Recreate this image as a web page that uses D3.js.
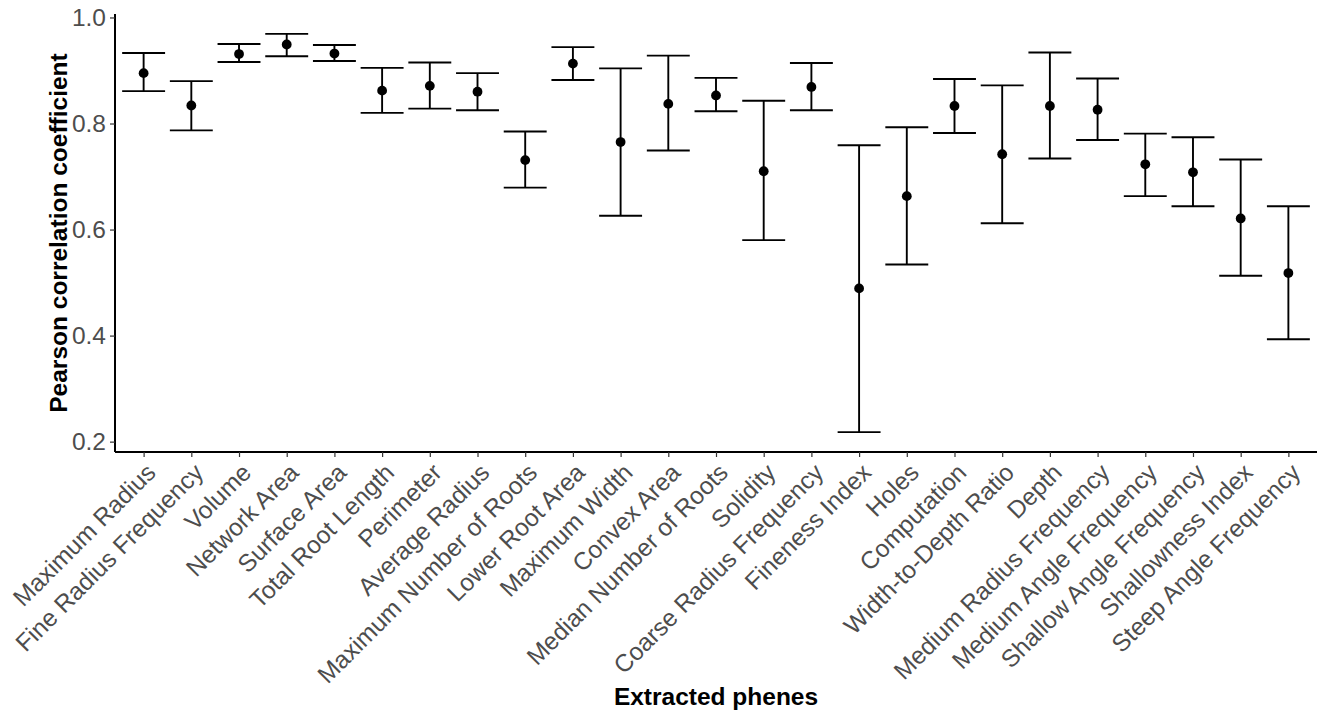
<!DOCTYPE html>
<html>
<head>
<meta charset="utf-8">
<script src="https://cdn.jsdelivr.net/npm/d3@7"></script>
<style>
  body { margin: 0; background: #fff; }
  text { font-family: "Liberation Sans", Arial, sans-serif; }
</style>
</head>
<body>
<div id="chart-area"></div>
<script>
// phenes, in plotted order
let phenes = ["Maximum Radius", "Fine Radius Frequency", "Volume", "Network Area", "Surface Area",
  "Total Root Length", "Perimeter", "Average Radius", "Maximum Number of Roots", "Lower Root Area",
  "Maximum Width", "Convex Area", "Median Number of Roots", "Solidity", "Coarse Radius Frequency",
  "Fineness Index", "Holes", "Computation", "Width-to-Depth Ratio", "Depth",
  "Medium Radius Frequency", "Medium Angle Frequency", "Shallow Angle Frequency", "Shallowness Index",
  "Steep Angle Frequency"];

// mean pearson r and its interval
let meanR  = [0.895, 0.834, 0.931, 0.949, 0.932, 0.862, 0.871, 0.860, 0.731, 0.913,
  0.765, 0.837, 0.853, 0.710, 0.869, 0.489, 0.663, 0.833, 0.742, 0.833,
  0.826, 0.723, 0.708, 0.621, 0.518];
let upperR = [0.933, 0.880, 0.950, 0.969, 0.948, 0.905, 0.915, 0.895, 0.785, 0.944,
  0.904, 0.928, 0.886, 0.843, 0.914, 0.759, 0.793, 0.884, 0.872, 0.934,
  0.885, 0.781, 0.774, 0.732, 0.644];
let lowerR = [0.861, 0.787, 0.916, 0.927, 0.918, 0.820, 0.828, 0.825, 0.679, 0.882,
  0.626, 0.749, 0.823, 0.580, 0.825, 0.218, 0.534, 0.782, 0.612, 0.734,
  0.769, 0.663, 0.644, 0.513, 0.393];

let yTicks = [0.2, 0.4, 0.6, 0.8, 1.0];

let width = 1317,
height = 715;

let margin = {left: 115, right: 0, top: 14, bottom: 263};

let svg = d3.select("#chart-area").append("svg")
    .attr("width", width)
    .attr("height", height);

let data = phenes.map((p, i) => ({name: p, mean: meanR[i], lo: lowerR[i], hi: upperR[i]}));

let x = d3.scalePoint()
    .domain(phenes)
    .range([margin.left, width - margin.right])
    .padding(0.6);

// ggplot style 5% expansion
let ext = [d3.min(lowerR), d3.max(upperR)];
let pad = (ext[1] - ext[0]) * 0.05;
let y = d3.scaleLinear()
    .domain([ext[0] - pad, ext[1] + pad])
    .range([height - margin.bottom, margin.top]);

let capW = x.step() * 0.9 / 2;

// axes
let yAxis = svg.append("g")
    .attr("transform", "translate(" + margin.left + ",0)")
    .call(d3.axisLeft(y).tickValues(yTicks).tickFormat(d3.format(".1f")).tickSize(5).tickPadding(4));

let xAxis = svg.append("g")
    .attr("transform", "translate(0," + (height - margin.bottom) + ")")
    .call(d3.axisBottom(x).tickSize(5).tickSizeOuter(0));

yAxis.select(".domain").attr("stroke", "#000").attr("stroke-width", 2)
    .attr("d", "M0," + y.range()[0] + "V" + y.range()[1]);
xAxis.select(".domain").attr("stroke", "#000").attr("stroke-width", 2)
    .attr("d", "M" + margin.left + ",0H" + width);
svg.selectAll(".tick line").attr("stroke", "#333").attr("stroke-width", 1.2);

yAxis.selectAll(".tick text")
    .attr("fill", "#4d4d4d")
    .style("font-size", "24.5px");

xAxis.selectAll(".tick text")
    .attr("fill", "#4d4d4d")
    .style("font-size", "24.5px")
    .attr("text-anchor", "end")
    .attr("dy", null)
    .attr("y", 0)
    .attr("transform", "translate(13,22) rotate(-45)");

// error bars
let bars = svg.append("g").selectAll("g")
    .data(data)
    .enter()
    .append("g")
    .attr("stroke", "#000")
    .attr("stroke-width", 1.9);

bars.append("line")
    .attr("x1", d => x(d.name)).attr("x2", d => x(d.name))
    .attr("y1", d => y(d.hi)).attr("y2", d => y(d.lo));
bars.append("line")
    .attr("x1", d => x(d.name) - capW).attr("x2", d => x(d.name) + capW)
    .attr("y1", d => y(d.hi)).attr("y2", d => y(d.hi));
bars.append("line")
    .attr("x1", d => x(d.name) - capW).attr("x2", d => x(d.name) + capW)
    .attr("y1", d => y(d.lo)).attr("y2", d => y(d.lo));

svg.append("g").selectAll("circle")
    .data(data)
    .enter()
    .append("circle")
    .attr("cx", d => x(d.name))
    .attr("cy", d => y(d.mean))
    .attr("r", 4.9)
    .attr("fill", "#000");

// titles
svg.append("text")
    .attr("transform", "translate(67," + ((y.range()[0] + y.range()[1]) / 2) + ") rotate(-90)")
    .attr("text-anchor", "middle")
    .style("font-size", "24.5px")
    .style("font-weight", "bold")
    .text("Pearson correlation coefficient");

svg.append("text")
    .attr("x", (margin.left + width) / 2)
    .attr("y", 705)
    .attr("text-anchor", "middle")
    .style("font-size", "24.5px")
    .style("font-weight", "bold")
    .text("Extracted phenes");
</script>
</body>
</html>
